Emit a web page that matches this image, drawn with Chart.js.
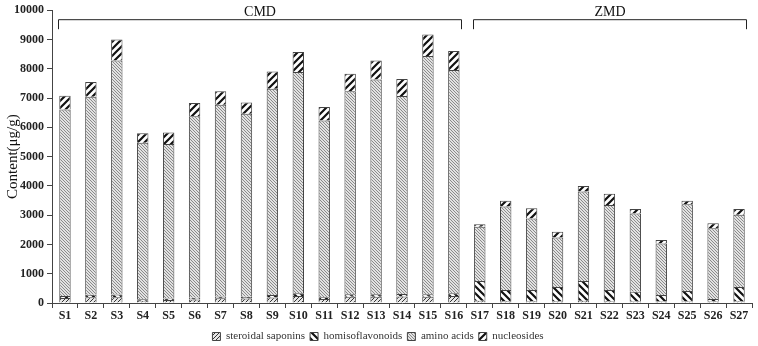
<!DOCTYPE html>
<html>
<head>
<meta charset="utf-8">
<script src="https://cdn.jsdelivr.net/npm/chart.js@4.4.0/dist/chart.umd.min.js"></script>
<style>
    html, body { margin: 0; padding: 0; background: #fff; }
    #wrap { width: 758px; height: 346px; position: relative; }
</style>
</head>
<body>
<div id="wrap"><canvas id="contentChart"></canvas></div>
<script>
// sample names and group brackets
const categories = ['S1', 'S2', 'S3', 'S4', 'S5', 'S6', 'S7', 'S8', 'S9', 'S10', 'S11', 'S12', 'S13', 'S14',
    'S15', 'S16', 'S17', 'S18', 'S19', 'S20', 'S21', 'S22', 'S23', 'S24', 'S25', 'S26', 'S27'];
const groupLabels = ['CMD', 'ZMD'];
const groupStart = [0, 16];
const groupEnd = [15, 26];

// content per component (ug/g), stacked bottom to top
const steroidalSaponins = [170, 200, 200, 80, 100, 120, 160, 150, 190, 240, 140, 210, 210, 220, 210, 240,
    80, 60, 60, 60, 80, 60, 50, 50, 50, 50, 60];
const homoisoflavonoids = [70, 80, 90, 50, 50, 60, 60, 60, 80, 90, 60, 90, 90, 90, 90, 90,
    670, 380, 380, 490, 670, 380, 330, 220, 360, 90, 490];
const aminoAcids = [6370, 6760, 7990, 5340, 5280, 6200, 6550, 6250, 7050, 7560, 6030, 6930, 7330, 6760, 8140, 7630,
    1850, 2860, 2450, 1690, 3060, 2910, 2680, 1760, 2960, 2410, 2460];
const nucleosides = [470, 510, 720, 330, 390, 450, 460, 390, 590, 680, 460, 600, 650, 580, 730, 650,
    90, 190, 350, 190, 190, 380, 150, 120, 120, 170, 200];

const yMax = 10000;
const yStep = 1000;

const serif = '"Liberation Serif", "DejaVu Serif", serif';

function makePattern(bg, color, lineWidth, size, dir) {
    const c = document.createElement('canvas');
    c.width = size;
    c.height = size;
    const g = c.getContext('2d');
    g.fillStyle = bg;
    g.fillRect(0, 0, size, size);
    g.strokeStyle = color;
    g.lineWidth = lineWidth;
    g.beginPath();
    if (dir === '/') {
        g.moveTo(0, size); g.lineTo(size, 0);
        g.moveTo(-size / 2, size / 2); g.lineTo(size / 2, -size / 2);
        g.moveTo(size / 2, size * 1.5); g.lineTo(size * 1.5, size / 2);
    } else {
        g.moveTo(0, 0); g.lineTo(size, size);
        g.moveTo(-size / 2, size / 2); g.lineTo(size / 2, size * 1.5);
        g.moveTo(size / 2, -size / 2); g.lineTo(size * 1.5, size / 2);
    }
    g.stroke();
    return g.createPattern(c, 'repeat');
}

const bracketPlugin = {
    id: 'groupBrackets',
    afterDraw(chart) {
        const ctx = chart.ctx;
        const x = chart.scales.x;
        const top = chart.chartArea.top;
        const bars = chart.getDatasetMeta(0).data;
        ctx.save();
        ctx.strokeStyle = '#222';
        ctx.lineWidth = 1;
        ctx.fillStyle = '#111';
        ctx.font = '14px ' + serif;
        ctx.textAlign = 'center';
        ctx.textBaseline = 'alphabetic';
        for (let i = 0; i < groupLabels.length; i++) {
            const half = bars[groupStart[i]].width / 2 + 1.5;
            const x0 = Math.round(x.getPixelForValue(groupStart[i]) - half) + 0.5;
            const x1 = Math.round(x.getPixelForValue(groupEnd[i]) + half) + 0.5;
            const yl = top + 9.5;
            ctx.beginPath();
            ctx.moveTo(x0, top + 19);
            ctx.lineTo(x0, yl);
            ctx.lineTo(x1, yl);
            ctx.lineTo(x1, top + 19);
            ctx.stroke();
            ctx.fillText(groupLabels[i], (x0 + x1) / 2, top + 6);
        }
        ctx.restore();
    }
};

function createContentChart() {
    const el = document.getElementById('contentChart');
    const border = '#444';
    new Chart(el, {
        type: 'bar',
        data: {
            labels: categories,
            datasets: [{
                label: 'steroidal saponins',
                data: steroidalSaponins,
                backgroundColor: makePattern('#e6e6e6', '#333', 1, 4, '/'),
                borderColor: border,
                borderWidth: 1
            }, {
                label: 'homisoflavonoids',
                data: homoisoflavonoids,
                backgroundColor: makePattern('#ffffff', '#111', 2.2, 7, '\\'),
                borderColor: border,
                borderWidth: 1
            }, {
                label: 'amino acids',
                data: aminoAcids,
                backgroundColor: makePattern('#e2e2e2', '#8a8a8a', 1, 3, '\\'),
                borderColor: border,
                borderWidth: 1
            }, {
                label: 'nucleosides',
                data: nucleosides,
                backgroundColor: makePattern('#ffffff', '#111', 2.2, 7, '/'),
                borderColor: border,
                borderWidth: 1
            }]
        },
        options: {
            responsive: true,
            maintainAspectRatio: false,
            animation: false,
            layout: {
                padding: { top: 10, right: 6, left: 4, bottom: -6 }
            },
            datasets: {
                bar: {
                    categoryPercentage: 1,
                    barPercentage: 0.44
                }
            },
            plugins: {
                legend: {
                    position: 'bottom',
                    labels: {
                        boxWidth: 8,
                        boxHeight: 8,
                        padding: 5,
                        color: '#333',
                        font: { family: serif, size: 11 }
                    }
                },
                tooltip: { enabled: false }
            },
            scales: {
                x: {
                    stacked: true,
                    afterFit: function(scale) { scale.height = 23; },
                    grid: {
                        display: true,
                        drawOnChartArea: false,
                        offset: true,
                        tickLength: 5,
                        color: '#444'
                    },
                    border: { color: '#444' },
                    ticks: {
                        color: '#222',
                        padding: 1,
                        maxRotation: 0,
                        autoSkip: false,
                        font: { family: serif, size: 12, weight: 'bold' }
                    }
                },
                y: {
                    stacked: true,
                    min: 0,
                    max: yMax,
                    afterFit: function(scale) { scale.width = 48; },
                    grid: {
                        display: true,
                        drawOnChartArea: false,
                        tickLength: 5,
                        color: '#444'
                    },
                    border: { color: '#444' },
                    ticks: {
                        stepSize: yStep,
                        color: '#222',
                        padding: 3,
                        callback: function(v) { return String(v); },
                        font: { family: serif, size: 12, weight: 'bold' }
                    },
                    title: {
                        display: true,
                        text: 'Content(μg/g)',
                        color: '#111',
                        padding: 0,
                        font: { family: serif, size: 15 }
                    }
                }
            }
        },
        plugins: [bracketPlugin]
    });
}

createContentChart();
</script>
</body>
</html>
